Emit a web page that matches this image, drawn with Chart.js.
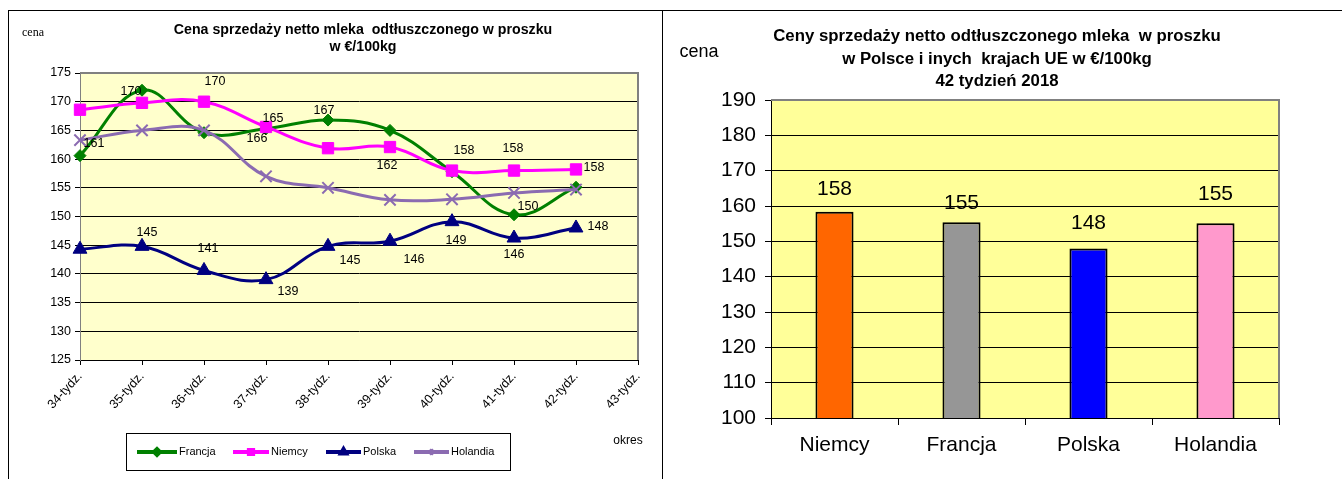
<!DOCTYPE html>
<html>
<head>
<meta charset="utf-8">
<script src="https://cdn.jsdelivr.net/npm/chart.js@4.4.0/dist/chart.umd.min.js"></script>
<style>
body { margin: 0; background: #fff; }
#wrap { position: relative; width: 1342px; height: 479px; overflow: hidden; }
#left { position: absolute; left: 0; top: 0; }
#right { position: absolute; left: 662px; top: 0; }
.frame { position: absolute; background: #000; }
</style>
</head>
<body>
<div id="wrap">
  <canvas id="left" width="662" height="479" style="width:662px;height:479px"></canvas>
  <canvas id="right" width="680" height="479" style="width:680px;height:479px"></canvas>
  <div class="frame" style="left:8px;top:10px;width:1334px;height:1px"></div>
  <div class="frame" style="left:8px;top:10px;width:1px;height:469px"></div>
  <div class="frame" style="left:662px;top:10px;width:1px;height:469px"></div>
</div>
<script>
// weekly prices, EUR/100kg
const weeks = ["34-tydz.", "35-tydz.", "36-tydz.", "37-tydz.", "38-tydz.", "39-tydz.", "40-tydz.", "41-tydz.", "42-tydz.", "43-tydz."];
const francja = [160.6, 172, 164.6, 165.3, 166.8, 165, 157.8, 150.3, 155.1];
const niemcy = [168.6, 169.8, 170, 165.6, 161.9, 162.1, 158, 158, 158.2];
const polska = [144.3, 144.8, 140.6, 139, 144.8, 145.7, 149.1, 146.25, 148];
const holandia = [163.3, 165, 165, 157, 155, 152.9, 153, 154.1, 154.7];

// week 42 comparison
const countries = ["Niemcy", "Francja", "Polska", "Holandia"];
const prices42 = [158.4, 155.4, 148, 155.1];

const FONT = "'Liberation Sans', Arial, sans-serif";

// where the value labels sit relative to each point (null = no label)
const labelOffsets = [
  [[14, -12], null, null, [7, -10], [-4, -10], null, null, [14, -8], null],
  [null, [-11, -11], [11, -20], [-9, 12], null, [-3, 19], [12, -20], [-1, -22], [18, -2]],
  [null, [5, -14], [4, -22], [22, 12], [22, 14], [24, 18], [4, 19], [0, 17], [22, -1]],
  []
];
const barLabelLift = [22, 19, 25, 29];

const series = [
  { label: "Francja", data: francja, color: "#008000", style: "rectRot", r: 6, order: 3 },
  { label: "Niemcy", data: niemcy, color: "#FF00FF", style: "rect", r: 8, order: 2 },
  { label: "Polska", data: polska, color: "#000080", style: "triangle", r: 8, order: 1 },
  { label: "Holandia", data: holandia, color: "#8B6BB1", style: "crossRot", r: 8, order: 0 }
];

const leftDecor = {
  id: "leftDecor",
  beforeDraw(chart) {
    const { ctx, chartArea: a } = chart;
    ctx.save();
    ctx.fillStyle = "#FFFFCC";
    ctx.fillRect(a.left, a.top, a.right - a.left, a.bottom - a.top);
    ctx.restore();
  },
  afterDatasetsDraw(chart) {
    const ctx = chart.ctx;
    ctx.save();
    ctx.font = "12.5px " + FONT;
    ctx.fillStyle = "#000";
    ctx.textAlign = "center";
    ctx.textBaseline = "middle";
    series.forEach((s, i) => {
      const meta = chart.getDatasetMeta(i);
      (labelOffsets[i] || []).forEach((off, j) => {
        if (!off) return;
        const p = meta.data[j];
        ctx.fillText(Math.round(s.data[j]), p.x + off[0], p.y + off[1]);
      });
    });
    ctx.restore();
  },
  afterDraw(chart) {
    const { ctx, chartArea: a } = chart;
    ctx.save();
    // grey plot border top/right
    ctx.strokeStyle = "#808080";
    ctx.lineWidth = 2;
    ctx.beginPath();
    ctx.moveTo(a.left, a.top);
    ctx.lineTo(a.right, a.top);
    ctx.lineTo(a.right, a.bottom);
    ctx.stroke();

    // titles
    ctx.fillStyle = "#000";
    ctx.textAlign = "center";
    ctx.textBaseline = "middle";
    ctx.font = "bold 14.2px " + FONT;
    ctx.fillText("Cena sprzedaży netto mleka  odtłuszczonego w proszku", 363, 30);
    ctx.fillText("w €/100kg", 363, 47);
    ctx.font = "12px 'Liberation Serif', 'Times New Roman', serif";
    ctx.fillText("cena", 33, 33);
    ctx.font = "12px " + FONT;
    ctx.fillText("okres", 628, 441);

    // legend box
    ctx.strokeStyle = "#000";
    ctx.lineWidth = 1;
    ctx.strokeRect(126.5, 433.5, 384, 37);
    const items = [[137, 177], [233, 269], [326, 361], [414, 449]];
    ctx.font = "11px " + FONT;
    ctx.textAlign = "left";
    series.forEach((s, i) => {
      const [x1, x2] = items[i];
      const y = 452;
      ctx.strokeStyle = s.color;
      ctx.lineWidth = 4;
      ctx.beginPath();
      ctx.moveTo(x1, y);
      ctx.lineTo(x2, y);
      ctx.stroke();
      Chart.helpers.drawPoint(ctx, { pointStyle: s.style, radius: 3, borderWidth: 1, rotation: 0 }, (x1 + x2) / 2, y);
      ctx.fillStyle = "#000";
      ctx.fillText(s.label, x2 + 2, y);
    });
    ctx.restore();
  }
};

new Chart(document.getElementById("left"), {
  type: "line",
  data: {
    labels: weeks,
    datasets: series.map(s => ({
      label: s.label,
      data: s.data,
      order: s.order,
      borderColor: s.color,
      backgroundColor: s.color,
      borderWidth: 3,
      tension: 0.4,
      pointStyle: s.style,
      pointRadius: s.r,
      pointBorderWidth: s.style === "crossRot" ? 2 : 1,
      pointBackgroundColor: s.color,
      pointBorderColor: s.color
    }))
  },
  options: {
    responsive: false,
    animation: false,
    layout: { padding: { top: 73, right: 24, left: 0, bottom: 0 } },
    plugins: { legend: { display: false }, tooltip: { enabled: false } },
    scales: {
      x: {
        offset: false,
        grid: { drawOnChartArea: false, tickLength: 5, color: "#000" },
        border: { color: "#000" },
        ticks: { autoSkip: false, minRotation: 48, maxRotation: 48, color: "#000", font: { family: FONT, size: 12.5 }, padding: 4 },
        afterFit: s => { s.height = 119; }
      },
      y: {
        min: 125,
        max: 175,
        grid: { color: "#000", tickLength: 5 },
        border: { color: "#808080" },
        ticks: { stepSize: 5, color: "#000", font: { family: FONT, size: 12.5 }, padding: 4 },
        afterFit: s => { s.width = 80; }
      }
    }
  },
  plugins: [leftDecor]
});

const rightDecor = {
  id: "rightDecor",
  beforeDraw(chart) {
    const { ctx, chartArea: a } = chart;
    ctx.save();
    ctx.fillStyle = "#FFFF99";
    ctx.fillRect(a.left, a.top, a.right - a.left, a.bottom - a.top);
    ctx.restore();
  },
  afterDraw(chart) {
    const { ctx, chartArea: a } = chart;
    ctx.save();
    ctx.strokeStyle = "#808080";
    ctx.lineWidth = 2;
    ctx.beginPath();
    ctx.moveTo(a.left, a.top);
    ctx.lineTo(a.right, a.top);
    ctx.lineTo(a.right, a.bottom);
    ctx.stroke();

    ctx.fillStyle = "#000";
    ctx.textAlign = "center";
    ctx.textBaseline = "middle";
    ctx.font = "bold 16.8px " + FONT;
    ctx.fillText("Ceny sprzedaży netto odtłuszczonego mleka  w proszku", 335, 36);
    ctx.fillText("w Polsce i inych  krajach UE w €/100kg", 335, 59);
    ctx.fillText("42 tydzień 2018", 335, 81);
    ctx.font = "18px " + FONT;
    ctx.fillText("cena", 37, 52);

    ctx.font = "21px " + FONT;
    const meta = chart.getDatasetMeta(0);
    meta.data.forEach((bar, i) => {
      ctx.fillText(Math.round(prices42[i]), bar.x, bar.y - barLabelLift[i]);
    });
    ctx.restore();
  }
};

new Chart(document.getElementById("right"), {
  type: "bar",
  data: {
    labels: countries,
    datasets: [{
      data: prices42,
      backgroundColor: ["#FF6600", "#969696", "#0000FF", "#FF99CC"],
      borderColor: "#000",
      borderWidth: 2,
      borderSkipped: false,
      barPercentage: 0.3,
      categoryPercentage: 1
    }]
  },
  options: {
    responsive: false,
    animation: false,
    layout: { padding: { top: 100, right: 63, left: 0, bottom: 0 } },
    plugins: { legend: { display: false }, tooltip: { enabled: false } },
    scales: {
      x: {
        grid: { offset: true, drawOnChartArea: false, tickLength: 7, color: "#000" },
        border: { color: "#000" },
        ticks: { color: "#000", font: { family: FONT, size: 21 }, padding: 8 },
        afterFit: s => { s.height = 61; }
      },
      y: {
        min: 100,
        max: 190,
        grid: { color: "#000", tickLength: 6 },
        border: { color: "#000" },
        ticks: { stepSize: 10, color: "#000", font: { family: FONT, size: 21 }, padding: 9 },
        afterFit: s => { s.width = 109; }
      }
    }
  },
  plugins: [rightDecor]
});
</script>
</body>
</html>
